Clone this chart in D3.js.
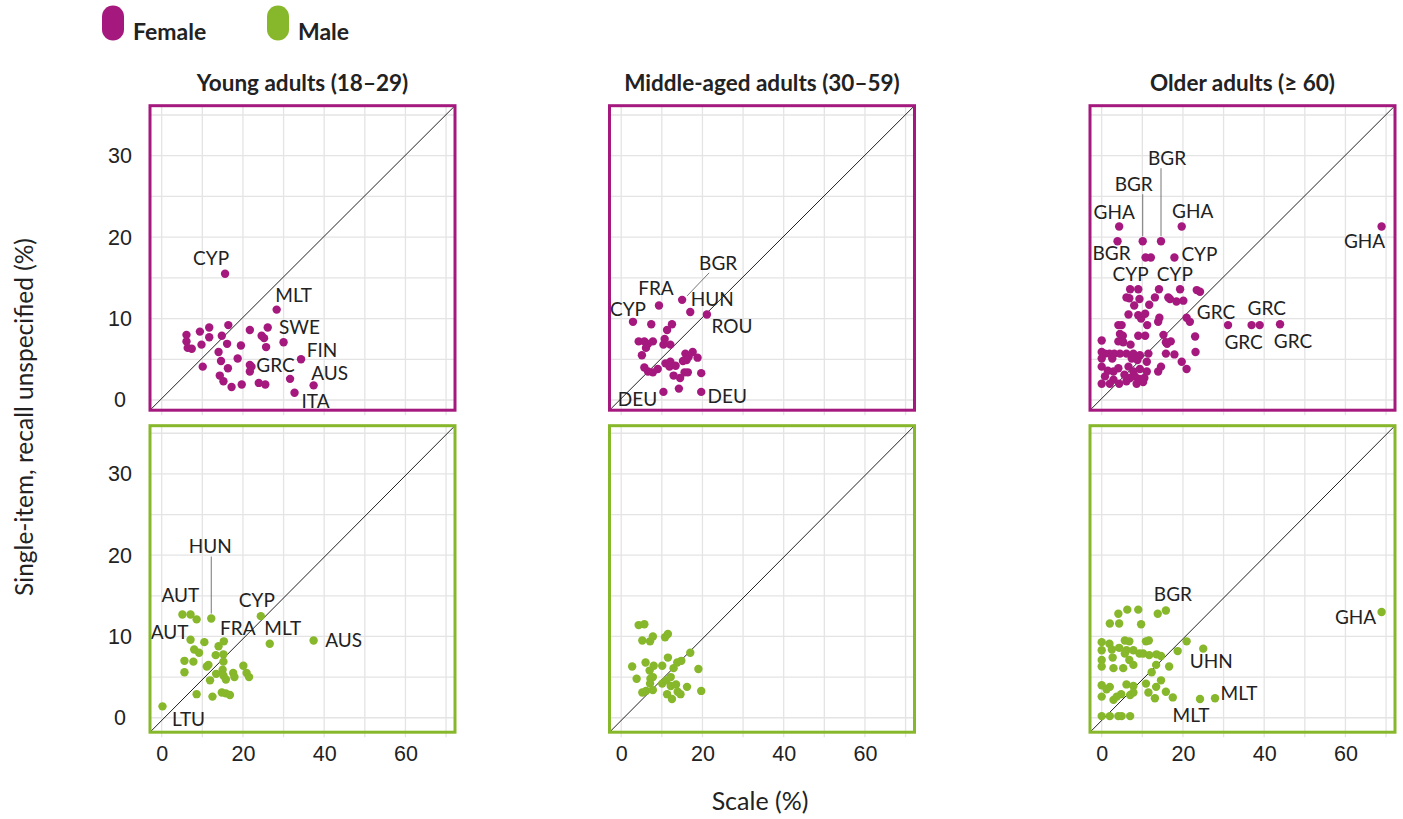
<!DOCTYPE html>
<html>
<head>
<meta charset="utf-8">
<script src="https://cdn.jsdelivr.net/npm/d3@7"></script>
<style>
  html, body { margin: 0; padding: 0; background: #fff; }
  svg { display: block; font-family: Lato, "Noto Sans", sans-serif; }
</style>
</head>
<body>
<svg id="chart" width="1403" height="819"></svg>
<script>
// ---- Data -------------------------------------------------------------
const ageGroups = ["Young adults (18–29)", "Middle-aged adults (30–59)", "Older adults (≥ 60)"];
const sexes = ["Female", "Male"];
const xTickValues = [0, 20, 40, 60];
const yTickValues = [0, 10, 20, 30];
const xGridValues = [0, 10, 20, 30, 40, 50, 60, 70];
const yGridValues = [0, 5, 10, 15, 20, 25, 30, 35];

// Each point: [scale %, single-item recall unspecified %, country label or ""]
const femaleYoung = [
  [15.6, 15.5, "CYP"], [28.3, 11.1, "MLT"], [30.0, 7.1, "SWE"], [34.3, 5.0, "FIN"],
  [22.1, 4.1, "GRC"], [37.4, 1.8, "AUS"], [32.7, 0.9, "ITA"],
  [16.4, 9.2, ""], [11.7, 8.9, ""], [9.4, 8.4, ""], [6.1, 8.0, ""], [11.7, 7.7, ""],
  [14.8, 7.9, ""], [21.7, 8.6, ""], [26.1, 8.9, ""], [24.6, 7.9, ""], [25.2, 7.6, ""],
  [6.1, 7.2, ""], [9.8, 6.8, ""], [16.1, 6.9, ""], [19.5, 6.7, ""], [25.7, 6.5, ""],
  [6.4, 6.4, ""], [7.4, 6.3, ""], [14.0, 5.9, ""], [18.7, 5.1, ""], [14.6, 4.8, ""],
  [10.1, 4.1, ""], [16.3, 3.9, ""], [21.7, 4.3, ""], [21.7, 3.5, ""], [14.3, 3.0, ""],
  [15.2, 2.3, ""], [31.6, 2.6, ""], [17.2, 1.6, ""], [19.7, 1.9, ""], [23.9, 2.1, ""],
  [25.5, 1.9, ""]
];
const femaleMiddle = [
  [15.0, 12.3, "BGR"], [9.3, 11.6, "FRA"], [17.0, 10.8, "HUN"], [21.1, 10.5, "ROU"],
  [2.9, 9.6, "CYP"], [10.4, 1.0, "DEU"], [19.7, 1.0, "DEU"],
  [7.4, 9.3, ""], [12.5, 9.3, ""], [11.3, 8.6, ""], [4.3, 7.2, ""], [5.7, 7.2, ""],
  [6.6, 6.9, ""], [7.8, 7.2, ""], [10.7, 7.5, ""], [10.4, 6.8, ""], [12.1, 6.8, ""],
  [6.1, 6.4, ""], [5.1, 5.5, ""], [15.8, 5.7, ""], [17.6, 5.9, ""], [16.6, 5.3, ""],
  [18.8, 5.2, ""], [15.2, 4.8, ""], [16.1, 4.9, ""], [10.9, 4.5, ""], [12.1, 4.7, ""],
  [11.9, 4.1, ""], [13.4, 4.2, ""], [5.7, 4.0, ""], [6.6, 3.5, ""], [7.8, 3.4, ""],
  [9.0, 3.8, ""], [12.9, 3.0, ""], [14.5, 2.7, ""], [15.6, 3.4, ""], [16.4, 3.4, ""],
  [19.7, 3.3, ""], [14.2, 1.4, ""]
];
const femaleOlder = [
  [4.3, 21.3, "GHA"], [3.9, 19.5, "BGR"], [10.1, 19.5, "BGR"], [14.6, 19.5, "BGR"],
  [19.7, 21.3, "GHA"], [10.8, 17.5, "CYP"], [12.1, 17.5, "CYP"], [17.9, 17.5, "CYP"],
  [68.9, 21.3, "GHA"], [31.1, 9.2, "GRC"], [36.9, 9.2, "GRC"], [38.9, 9.2, "GRC"],
  [43.9, 9.3, "GRC"],
  [7.0, 13.6, ""], [9.0, 13.6, ""], [14.1, 13.6, ""], [19.3, 13.6, ""], [23.4, 13.5, ""],
  [24.2, 13.3, ""], [6.1, 12.6, ""], [6.8, 12.5, ""], [9.3, 12.4, ""], [13.1, 12.6, ""],
  [16.4, 12.6, ""], [16.8, 12.4, ""], [18.4, 12.1, ""], [20.1, 12.2, ""], [8.0, 11.6, ""],
  [11.7, 11.7, ""], [6.6, 10.5, ""], [9.0, 10.4, ""], [10.7, 10.6, ""], [9.7, 10.0, ""],
  [14.2, 10.1, ""], [13.9, 9.6, ""], [4.1, 9.2, ""], [4.9, 9.2, ""], [11.2, 9.2, ""],
  [20.9, 10.1, ""], [21.7, 9.6, ""], [4.5, 8.1, ""], [5.2, 7.9, ""], [9.0, 7.9, ""],
  [10.7, 7.9, ""], [15.2, 8.0, ""], [23.0, 7.8, ""], [0.0, 7.3, ""], [4.1, 7.2, ""],
  [5.3, 7.1, ""], [7.1, 6.8, ""], [15.8, 7.1, ""], [17.0, 7.2, ""], [16.1, 6.9, ""],
  [0.0, 5.9, ""], [0.8, 5.7, ""], [1.9, 5.7, ""], [3.1, 5.7, ""], [4.5, 5.7, ""],
  [6.1, 5.7, ""], [7.8, 5.7, ""], [9.4, 5.5, ""], [11.5, 5.7, ""], [15.8, 5.7, ""],
  [17.9, 5.6, ""], [23.1, 5.9, ""], [0.0, 5.1, ""], [2.6, 5.1, ""], [7.4, 5.1, ""],
  [8.8, 4.9, ""], [11.1, 4.7, ""], [19.7, 4.7, ""], [14.6, 4.1, ""], [20.9, 3.8, ""],
  [0.0, 4.1, ""], [1.5, 3.6, ""], [2.9, 3.5, ""], [4.1, 3.9, ""], [6.6, 4.1, ""],
  [7.8, 3.5, ""], [9.4, 3.8, ""], [11.1, 3.5, ""], [13.9, 3.5, ""], [0.8, 2.9, ""],
  [2.9, 2.5, ""], [5.6, 3.1, ""], [7.0, 2.7, ""], [8.2, 2.9, ""], [9.3, 2.6, ""],
  [10.5, 2.7, ""], [0.0, 2.0, ""], [2.0, 2.0, ""], [4.3, 2.0, ""], [6.1, 2.3, ""],
  [8.6, 2.0, ""], [10.2, 2.2, ""]
];
const maleYoung = [
  [0.2, 1.4, "LTU"], [5.1, 12.7, "AUT"], [12.2, 12.2, "HUN"], [24.4, 12.5, "CYP"],
  [7.1, 9.6, "AUT"], [15.3, 9.4, "FRA"], [26.6, 9.1, "MLT"], [37.4, 9.5, "AUS"],
  [7.1, 12.7, ""], [8.6, 12.1, ""], [10.5, 9.3, ""], [14.0, 8.8, ""], [8.0, 8.4, ""],
  [9.2, 8.0, ""], [13.3, 7.7, ""], [15.2, 7.8, ""], [5.6, 7.0, ""], [7.8, 6.9, ""],
  [15.2, 6.9, ""], [11.1, 6.3, ""], [11.5, 6.5, ""], [5.6, 5.6, ""], [11.9, 4.6, ""],
  [13.4, 5.4, ""], [15.0, 5.9, ""], [15.2, 5.2, ""], [15.8, 4.7, ""], [17.6, 5.5, ""],
  [17.9, 5.0, ""], [20.1, 6.4, ""], [20.9, 5.5, ""], [21.5, 5.0, ""], [8.6, 2.9, ""],
  [12.5, 2.6, ""], [14.8, 3.1, ""], [15.8, 3.0, ""], [16.8, 2.8, ""]
];
const maleMiddle = [
  [4.3, 11.4, ""], [5.7, 11.5, ""], [5.2, 9.5, ""], [7.1, 9.4, ""], [7.8, 10.0, ""],
  [10.8, 9.9, ""], [11.5, 10.3, ""], [17.0, 8.0, ""], [2.7, 6.3, ""], [6.0, 6.8, ""],
  [7.0, 5.8, ""], [8.0, 6.4, ""], [10.1, 6.4, ""], [11.5, 7.4, ""], [12.9, 6.1, ""],
  [13.8, 6.8, ""], [14.8, 7.0, ""], [19.0, 6.0, ""], [3.8, 4.8, ""], [7.2, 4.8, ""],
  [7.8, 5.0, ""], [7.1, 4.2, ""], [10.1, 4.2, ""], [11.1, 4.6, ""], [12.2, 5.0, ""],
  [12.2, 3.9, ""], [13.5, 4.1, ""], [16.2, 3.8, ""], [5.2, 3.1, ""], [6.1, 3.3, ""],
  [7.8, 3.4, ""], [11.3, 2.9, ""], [13.9, 3.2, ""], [14.6, 2.9, ""], [12.5, 2.3, ""],
  [19.7, 3.3, ""]
];
const maleOlder = [
  [15.8, 13.2, "BGR"], [68.9, 13.0, "GHA"], [25.0, 8.5, "UHN"], [27.9, 2.4, "MLT"],
  [24.2, 2.3, "MLT"],
  [13.8, 12.8, ""], [4.1, 12.8, ""], [6.3, 13.3, ""], [9.0, 13.3, ""], [2.0, 11.6, ""],
  [4.3, 11.6, ""], [9.7, 11.5, ""], [0.0, 9.3, ""], [1.9, 9.1, ""], [5.7, 9.5, ""],
  [6.8, 9.4, ""], [10.9, 9.4, ""], [11.6, 9.5, ""], [20.9, 9.4, ""], [0.0, 8.3, ""],
  [2.5, 8.4, ""], [4.3, 8.6, ""], [6.1, 8.3, ""], [7.8, 8.3, ""], [9.3, 7.9, ""],
  [10.2, 7.9, ""], [11.7, 7.7, ""], [13.5, 7.8, ""], [14.6, 7.6, ""], [18.7, 8.2, ""],
  [0.0, 7.1, ""], [2.7, 7.4, ""], [5.7, 7.9, ""], [6.8, 7.1, ""], [0.0, 6.3, ""],
  [2.9, 6.1, ""], [5.3, 6.1, ""], [7.8, 6.5, ""], [13.4, 6.5, ""], [16.6, 6.3, ""],
  [12.3, 5.6, ""], [0.0, 4.0, ""], [2.0, 3.8, ""], [6.1, 4.1, ""], [7.8, 3.9, ""],
  [10.9, 4.2, ""], [14.6, 4.6, ""], [13.4, 3.8, ""], [0.0, 2.6, ""], [2.9, 2.2, ""],
  [4.8, 2.9, ""], [7.0, 2.8, ""], [7.8, 3.1, ""], [11.5, 3.1, ""], [13.1, 2.4, ""],
  [15.8, 3.2, ""], [17.5, 2.5, ""], [0.0, 0.2, ""], [2.0, 0.2, ""], [4.1, 0.2, ""],
  [4.9, 0.2, ""], [7.0, 0.2, ""], [1.2, 3.5, ""], [3.7, 2.6, ""]
];

// ---- Label placement (pixel offsets of label centre from its point,
//      in the order labelled points appear; optional leader line) -----
const labelPlacement = {
  femaleYoung: [
    { dx: -14, dy: -15 }, { dx: 17, dy: -14 }, { dx: 16, dy: -15 }, { dx: 21, dy: -9 },
    { dx: 24, dy: -1 }, { dx: 16, dy: -12 }, { dx: 21, dy: 9 }
  ],
  femaleMiddle: [
    { dx: 36, dy: -37, lead: [5, -4, 27, -27] }, { dx: -3, dy: -17 }, { dx: 22, dy: -13 },
    { dx: 25, dy: 12 }, { dx: -5, dy: -12 }, { dx: -26, dy: 7 }, { dx: 26, dy: 4 }
  ],
  femaleOlder: [
    { dx: -5, dy: -14 }, { dx: -6, dy: 12.5 }, { dx: -9, dy: -57, lead: [0, -5, 0, -47] },
    { dx: 6, dy: -83, lead: [0, -5, 0, -73] }, { dx: 11, dy: -15 }, { dx: -15, dy: 17 },
    { dx: 24, dy: 17 }, { dx: 25, dy: -3 }, { dx: -17, dy: 15 }, { dx: -12, dy: -13 },
    { dx: -8, dy: 17 }, { dx: 7, dy: -17 }, { dx: 13, dy: 17 }
  ],
  maleYoung: [
    { dx: 26, dy: 13 }, { dx: -2, dy: -19 }, { dx: -1, dy: -72, lead: [0, -5, 0, -62] },
    { dx: -4, dy: -16 }, { dx: -21, dy: -7 }, { dx: 14, dy: -13 }, { dx: 13, dy: -15 },
    { dx: 30, dy: 0 }
  ],
  maleMiddle: [],
  maleOlder: [
    { dx: 7, dy: -16 }, { dx: -26, dy: 5 }, { dx: 8, dy: 13 }, { dx: 24, dy: -5 },
    { dx: -9, dy: 16 }
  ]
};

// ---- Layout -----------------------------------------------------------
const colors = { Female: "#a5197f", Male: "#87b72a" };
const colX = [150, 609.5, 1090];
const panelW = 305;
const rowBox = [
  { top: 105.7, bottom: 410.2, yDomain: [-1.25, 36.14] },
  { top: 425.7, bottom: 732.2, yDomain: [-1.78, 35.93] }
];
const xDomain = [-2.88, 72.2];

const panels = [
  { key: "femaleYoung", data: femaleYoung, row: 0, col: 0 },
  { key: "femaleMiddle", data: femaleMiddle, row: 0, col: 1 },
  { key: "femaleOlder", data: femaleOlder, row: 0, col: 2 },
  { key: "maleYoung", data: maleYoung, row: 1, col: 0 },
  { key: "maleMiddle", data: maleMiddle, row: 1, col: 1 },
  { key: "maleOlder", data: maleOlder, row: 1, col: 2 }
];

const svg = d3.select("#chart");
const textColor = "#222";

// Legend
const legend = svg.append("g");
sexes.forEach((s, i) => {
  const lx = [102, 267][i];
  legend.append("rect").attr("x", lx).attr("y", 5.5).attr("width", 22).attr("height", 35)
    .attr("rx", 11).attr("ry", 11).attr("fill", colors[s]);
  legend.append("text").attr("x", lx + 31).attr("y", 40)
    .attr("font-size", 23).attr("font-weight", 700).attr("fill", textColor).text(s);
});

// Column titles
ageGroups.forEach((g, i) => {
  svg.append("text").attr("x", colX[i] + panelW / 2).attr("y", 91)
    .attr("text-anchor", "middle").attr("font-size", 22.5).attr("font-weight", 700)
    .attr("fill", textColor).text(g);
});

panels.forEach(p => {
  const sex = p.row === 0 ? "Female" : "Male";
  const color = colors[sex];
  const box = rowBox[p.row];
  const x0 = colX[p.col];
  const x = d3.scaleLinear().domain(xDomain).range([x0, x0 + panelW]);
  const y = d3.scaleLinear().domain(box.yDomain).range([box.bottom, box.top]);
  const g = svg.append("g");

  // gridlines
  g.append("g").selectAll("line").data(xGridValues).join("line")
    .attr("x1", d => x(d)).attr("x2", d => x(d))
    .attr("y1", box.top).attr("y2", box.bottom + 5)
    .attr("stroke", "#e4e4e4").attr("stroke-width", 1.3);
  g.append("g").selectAll("line").data(yGridValues).join("line")
    .attr("x1", x0).attr("x2", x0 + panelW)
    .attr("y1", d => y(d)).attr("y2", d => y(d))
    .attr("stroke", "#e4e4e4").attr("stroke-width", 1.3);

  // reference diagonal, corner to corner
  g.append("line")
    .attr("x1", x(xDomain[0])).attr("y1", y(box.yDomain[0]))
    .attr("x2", x(xDomain[1])).attr("y2", y(box.yDomain[1]))
    .attr("stroke", "#222").attr("stroke-width", 1);

  // points
  g.append("g").selectAll("circle").data(p.data).join("circle")
    .attr("cx", d => x(d[0])).attr("cy", d => y(d[1])).attr("r", 4.2)
    .attr("fill", color);

  // labels
  const labelled = p.data.filter(d => d[2]);
  const place = labelPlacement[p.key];
  labelled.forEach((d, i) => {
    const pl = place[i];
    const px = x(d[0]), py = y(d[1]);
    if (pl.lead) {
      g.append("line")
        .attr("x1", px + pl.lead[0]).attr("y1", py + pl.lead[1])
        .attr("x2", px + pl.lead[2]).attr("y2", py + pl.lead[3])
        .attr("stroke", "#666").attr("stroke-width", 0.9);
    }
    g.append("text").attr("x", px + pl.dx).attr("y", py + pl.dy)
      .attr("dy", "0.35em").attr("text-anchor", "middle")
      .attr("font-size", 19).attr("fill", textColor).text(d[2]);
  });

  // panel frame
  g.append("rect").attr("x", x0).attr("y", box.top)
    .attr("width", panelW).attr("height", box.bottom - box.top)
    .attr("fill", "none").attr("stroke", color).attr("stroke-width", 3);

  // x tick labels on bottom row
  if (p.row === 1) {
    const ax = g.append("g").attr("transform", `translate(0,${box.bottom})`)
      .call(d3.axisBottom(x).tickValues(xTickValues).tickSize(0).tickPadding(14));
    ax.select(".domain").remove();
    ax.selectAll("text").attr("font-size", 21.5).attr("font-family", null).attr("fill", textColor);
  }
  // y tick labels in first column
  if (p.col === 0) {
    const ay = g.append("g").attr("transform", `translate(${x0},0)`)
      .call(d3.axisLeft(y).tickValues(yTickValues).tickSize(0).tickPadding(0));
    ay.select(".domain").remove();
    ay.selectAll("text").attr("font-size", 21.5).attr("font-family", null)
      .attr("fill", textColor).attr("text-anchor", "middle").attr("x", 120 - x0);
  }
});

// Axis titles
svg.append("text").attr("x", 760).attr("y", 810).attr("text-anchor", "middle")
  .attr("font-size", 25).attr("fill", textColor).text("Scale (%)");
svg.append("text").attr("transform", "translate(33,417) rotate(-90)")
  .attr("text-anchor", "middle").attr("font-size", 24.5).attr("fill", textColor)
  .text("Single-item, recall unspecified (%)");
</script>
</body>
</html>
